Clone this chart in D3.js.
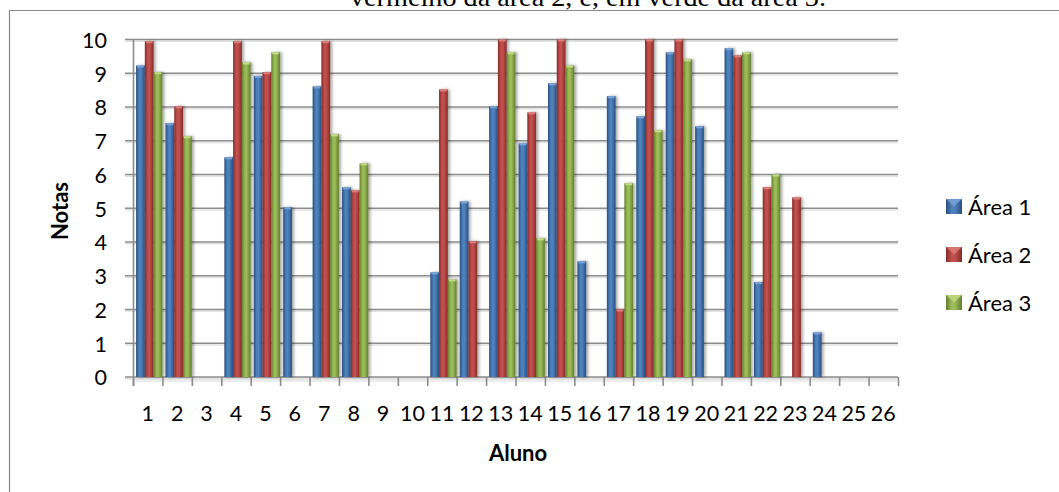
<!DOCTYPE html>
<html><head><meta charset="utf-8">
<script src="https://cdn.jsdelivr.net/npm/d3@7"></script>
<style>html,body{margin:0;padding:0;background:#fff;overflow:hidden}</style>
</head><body>
<svg id="c" width="1059" height="492"></svg>
<script>
const alunos = ["1","2","3","4","5","6","7","8","9","10","11","12","13","14","15","16","17","18","19","20","21","22","23","24","25","26"];
const area1 = [9.23,7.52,0,6.51,8.92,5.03,8.61,5.62,0,0,3.10,5.20,8.02,6.92,8.70,3.43,8.32,7.72,9.62,7.43,9.74,2.81,0,1.32,0,0];
const area2 = [9.95,8.02,0,9.95,9.03,0,9.95,5.53,0,0,8.52,4.02,10,7.84,10,0,2.0,10,10,0,9.53,5.62,5.32,0,0,0];
const area3 = [9.03,7.13,0,9.32,9.62,0,7.19,6.33,0,0,2.89,0,9.62,4.11,9.23,0,5.74,7.31,9.41,0,9.62,6.0,0,0,0,0];
const seriesNames = ["Área 1","Área 2","Área 3"];
const yTicks = [0,1,2,3,4,5,6,7,8,9,10];

const colors = [
  {base:"#4f81bd", dark:"#274f80", light:"#7aa3d6"},
  {base:"#c0504d", dark:"#852b28", light:"#dd7e7b"},
  {base:"#9bbb59", dark:"#637f2c", light:"#c3dc86"}
];
const svg = d3.select("#c");
const defs = svg.append("defs");
colors.forEach((c,i)=>{
  const g = defs.append("linearGradient").attr("id","g"+i).attr("x1","0").attr("x2","1").attr("y1","0").attr("y2","0");
  g.append("stop").attr("offset","0%").attr("stop-color",c.dark);
  g.append("stop").attr("offset","35%").attr("stop-color",c.base);
  g.append("stop").attr("offset","55%").attr("stop-color",c.base);
  g.append("stop").attr("offset","100%").attr("stop-color",c.dark);
});
const sh = defs.append("filter").attr("id","sh").attr("x","-50%").attr("y","-10%").attr("width","200%").attr("height","120%");
sh.append("feGaussianBlur").attr("in","SourceAlpha").attr("stdDeviation","1.5").attr("result","b");
sh.append("feOffset").attr("in","b").attr("dx","2").attr("dy","0").attr("result","o");
sh.append("feComponentTransfer").attr("in","o").attr("result","o2").append("feFuncA").attr("type","linear").attr("slope","0.35");
const m = sh.append("feMerge"); m.append("feMergeNode").attr("in","o2"); m.append("feMergeNode").attr("in","SourceGraphic");

// top cut text
svg.append("text").attr("x",350).attr("y",5.5)
  .attr("font-family","'Liberation Serif','Times New Roman',serif").attr("font-size",26)
  .attr("textLength",476).attr("lengthAdjust","spacingAndGlyphs")
  .attr("fill","#000").text("vermelho da área 2, e, em verde da área 3.");

// frame
svg.append("path").attr("d","M9.5,495 V10.5 H1065").attr("fill","none").attr("stroke","#8a8a8a").attr("stroke-width",1.2);

const x = d3.scaleBand().domain(alunos).range([133,898]).paddingInner(0).paddingOuter(0);
const y = d3.scaleLinear().domain([0,10]).range([377,39.5]);
const xs = d3.scaleBand().domain(seriesNames).range([0, x.bandwidth()]).paddingInner(0).paddingOuter(0.18);

const font = "Lato, 'Open Sans', sans-serif";

// floor shadow band
svg.append("rect").attr("x",133).attr("y",377).attr("width",765).attr("height",5).attr("fill","#ececec");

// gridlines
const gg = svg.append("g");
yTicks.forEach(t=>{
  gg.append("line").attr("x1",125).attr("x2",898).attr("y1",y(t)+1.8).attr("y2",y(t)+1.8).attr("stroke","#e2e2e2").attr("stroke-width",1.5);
  gg.append("line").attr("x1",125).attr("x2",898).attr("y1",y(t)).attr("y2",y(t)).attr("stroke","#8c8c8c").attr("stroke-width",1.6);
});
// y axis line
svg.append("line").attr("x1",133.5).attr("x2",133.5).attr("y1",y(10)).attr("y2",y(0)+9).attr("stroke","#8c8c8c").attr("stroke-width",1.6);
// x ticks
const xAxis = d3.axisBottom(x).tickSize(0).tickPadding(0);
const xb = alunos.map(a=>x(a)).concat([x(alunos[alunos.length-1])+x.bandwidth()]);
xb.forEach(b=>{
  svg.append("line").attr("x1",b+0.5).attr("x2",b+0.5).attr("y1",y(0)).attr("y2",y(0)+9).attr("stroke","#8c8c8c").attr("stroke-width",1.6);
});

// bars
const data = [area1,area2,area3];
const bg = svg.append("g").attr("filter","url(#sh)");
data.forEach((arr,si)=>{
  arr.forEach((v,i)=>{
    if(v<=0) return;
    const bx = x(alunos[i]) + xs(seriesNames[si]) + 1.5;
    const w = xs.bandwidth();
    bg.append("rect").attr("x",bx).attr("y",y(v)).attr("width",w).attr("height",y(0)-y(v)).attr("fill","url(#g"+si+")");
    bg.append("rect").attr("x",bx+1).attr("y",y(v)).attr("width",w-2).attr("height",2).attr("fill",colors[si].light);
  });
});

// x tick labels
const xl = svg.append("g").attr("transform","translate(0,"+y(0)+")").call(xAxis);
xl.select(".domain").remove();
xl.selectAll("text").attr("dy",0).attr("y",44).attr("font-family",font).attr("font-size",21.5).attr("fill","#000");

// y tick labels
const yAxis = d3.axisLeft(y).tickValues(yTicks).tickSize(0).tickPadding(0);
const yl = svg.append("g").attr("transform","translate(107,0)").call(yAxis);
yl.select(".domain").remove();
yl.selectAll("text").attr("font-family",font).attr("font-size",21.5).attr("fill","#000").attr("dy","0.36em");

// axis titles
svg.append("text").attr("transform","translate(68,211) rotate(-90)").attr("text-anchor","middle")
  .attr("font-family",font).attr("font-weight","bold").attr("font-size",22).attr("fill","#000").text("Notas");
svg.append("text").attr("x",518).attr("y",461).attr("text-anchor","middle")
  .attr("font-family",font).attr("font-weight","bold").attr("font-size",22).attr("fill","#000").text("Aluno");

// legend
const lg = svg.append("g");
seriesNames.forEach((n,i)=>{
  const cy = 207 + i*48;
  lg.append("rect").attr("x",946).attr("y",cy-8).attr("width",16).attr("height",15).attr("fill","url(#g"+i+")");
  lg.append("path").attr("d",`M946,${cy-8} L954,${cy-0.5} L962,${cy-8} Z`).attr("fill",colors[i].light).attr("opacity",0.8);
  lg.append("text").attr("x",968).attr("y",cy).attr("dy","0.36em").attr("font-family",font).attr("font-size",22).attr("fill","#000").text(n);
});
</script>
</body></html>
